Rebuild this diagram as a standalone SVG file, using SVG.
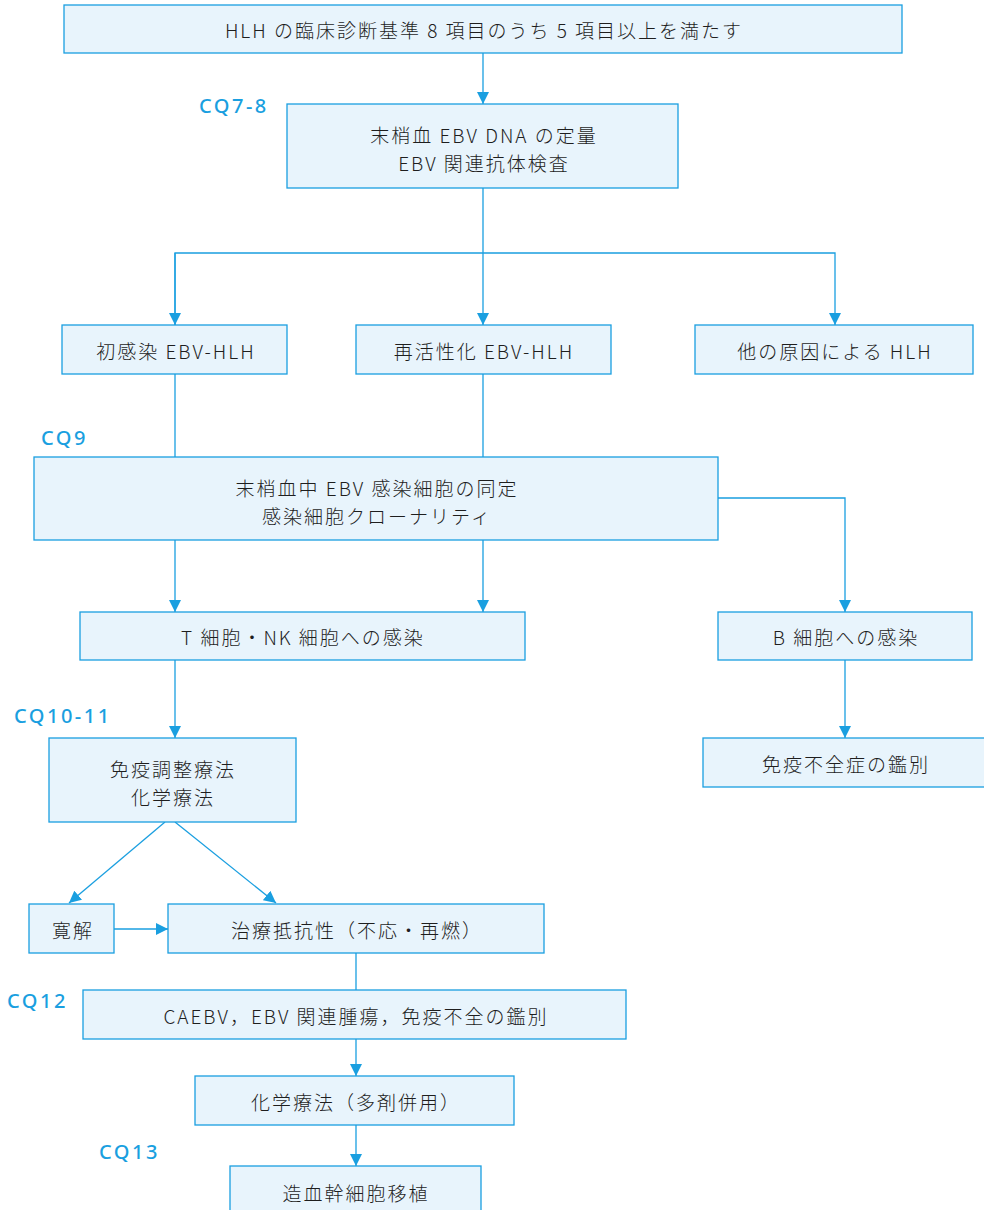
<svg xmlns="http://www.w3.org/2000/svg" width="984" height="1210" viewBox="0 0 984 1210">
<defs>
<marker id="ah" viewBox="0 0 10 10" refX="10" refY="5" markerWidth="12" markerHeight="12" markerUnits="userSpaceOnUse" orient="auto">
<path d="M0,0 L10,5 L0,10 z" fill="#1a9fe0"/>
</marker>
<style>
.box{fill:#e8f4fc;stroke:#1a9fe0;stroke-width:1.3}
.t{font-family:"Noto Sans CJK JP","Noto Sans",sans-serif;font-size:19px;font-weight:300;letter-spacing:2px;fill:#1e1e1e;text-anchor:middle;dominant-baseline:central}
.cq{font-family:"Noto Sans","Noto Sans CJK JP",sans-serif;font-size:20px;font-weight:500;letter-spacing:2.5px;fill:#1a9fe0}
.c{fill:none;stroke:#1a9fe0;stroke-width:1.3}
</style>
</defs>
<rect width="984" height="1210" fill="#fff"/>
<g id="connectors">
<path class="c" d="M483,53 V104" marker-end="url(#ah)"/>
<path class="c" d="M483,188 V325" marker-end="url(#ah)"/>
<path class="c" d="M175,325 V253 H835 V325" marker-end="url(#ah)"/>
<path class="c" d="M175,253 V325" marker-end="url(#ah)"/>
<path class="c" d="M175,374 V457"/>
<path class="c" d="M483,374 V457"/>
<path class="c" d="M175,540 V612" marker-end="url(#ah)"/>
<path class="c" d="M483,540 V612" marker-end="url(#ah)"/>
<path class="c" d="M718,498 H845 V612" marker-end="url(#ah)"/>
<path class="c" d="M845,660 V738" marker-end="url(#ah)"/>
<path class="c" d="M175,660 V738" marker-end="url(#ah)"/>
<path class="c" d="M165,822 L69,903" marker-end="url(#ah)"/>
<path class="c" d="M175,822 L276,903" marker-end="url(#ah)"/>
<path class="c" d="M114,929 H168" marker-end="url(#ah)"/>
<path class="c" d="M356,953 V990"/>
<path class="c" d="M356,1039 V1076" marker-end="url(#ah)"/>
<path class="c" d="M356,1125 V1166" marker-end="url(#ah)"/>
</g>
<g id="n1"><rect class="box" x="64" y="5" width="838" height="48"/><text class="t" x="484" y="29">HLH の臨床診断基準 8 項目のうち 5 項目以上を満たす</text></g>
<g id="n2"><rect class="box" x="287" y="104" width="391" height="84"/><text class="t" x="484" y="134">末梢血 EBV DNA の定量</text><text class="t" x="484" y="162">EBV 関連抗体検査</text></g>
<g id="n3"><rect class="box" x="62" y="325" width="225" height="49"/><text class="t" x="176" y="350">初感染 EBV-HLH</text></g>
<g id="n4"><rect class="box" x="356" y="325" width="255" height="49"/><text class="t" x="484" y="350">再活性化 EBV-HLH</text></g>
<g id="n5"><rect class="box" x="695" y="325" width="278" height="49"/><text class="t" x="835" y="350">他の原因による HLH</text></g>
<g id="n6"><rect class="box" x="34" y="457" width="684" height="83"/><text class="t" x="377" y="487">末梢血中 EBV 感染細胞の同定</text><text class="t" x="377" y="515">感染細胞クローナリティ</text></g>
<g id="n7"><rect class="box" x="80" y="612" width="445" height="48"/><text class="t" x="303" y="636">T 細胞・NK 細胞への感染</text></g>
<g id="n8"><rect class="box" x="718" y="612" width="254" height="48"/><text class="t" x="846" y="636">B 細胞への感染</text></g>
<g id="n9"><rect class="box" x="703" y="738" width="282" height="49"/><text class="t" x="846" y="763">免疫不全症の鑑別</text></g>
<g id="n10"><rect class="box" x="49" y="738" width="247" height="84"/><text class="t" x="173" y="768">免疫調整療法</text><text class="t" x="173" y="796">化学療法</text></g>
<g id="n11"><rect class="box" x="29" y="904" width="85" height="49"/><text class="t" x="73" y="929">寛解</text></g>
<g id="n12"><rect class="box" x="168" y="904" width="376" height="49"/><text class="t" x="357" y="929">治療抵抗性（不応・再燃）</text></g>
<g id="n13"><rect class="box" x="83" y="990" width="543" height="49"/><text class="t" x="356" y="1015">CAEBV，EBV 関連腫瘍，免疫不全の鑑別</text></g>
<g id="n14"><rect class="box" x="195" y="1076" width="319" height="49"/><text class="t" x="356" y="1101">化学療法（多剤併用）</text></g>
<g id="n15"><rect class="box" x="230" y="1166" width="251" height="60"/><text class="t" x="356" y="1192">造血幹細胞移植</text></g>
<g id="labels">
<text class="cq" x="199" y="113">CQ7-8</text>
<text class="cq" x="41" y="445">CQ9</text>
<text class="cq" x="14" y="723">CQ10-11</text>
<text class="cq" x="7" y="1008">CQ12</text>
<text class="cq" x="99" y="1159">CQ13</text>
</g>
</svg>
